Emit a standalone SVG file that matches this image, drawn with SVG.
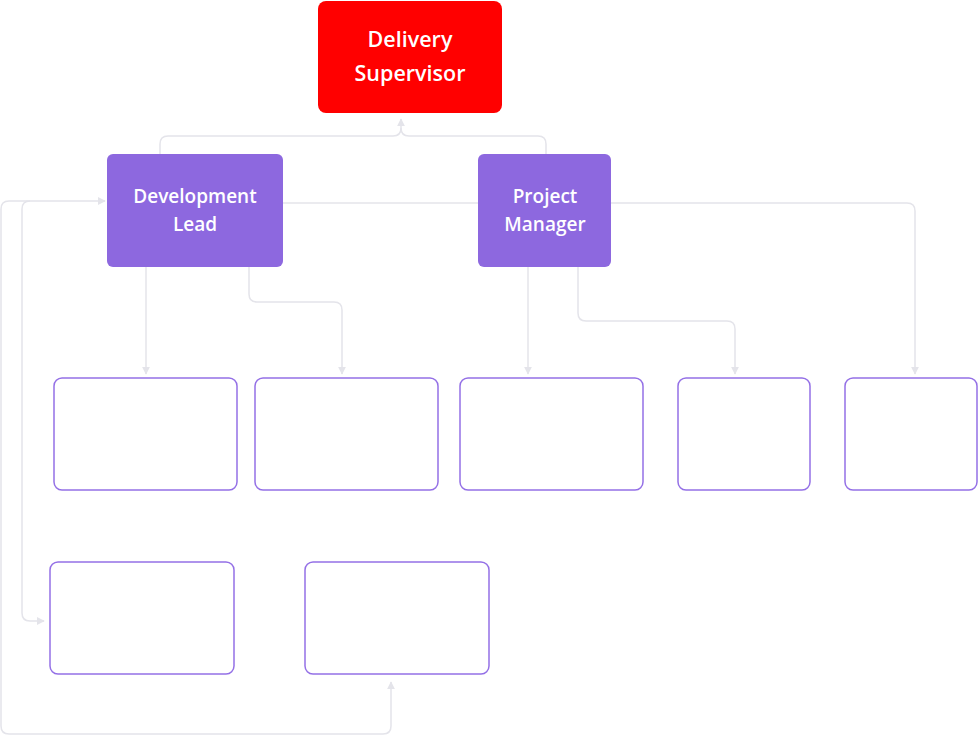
<svg xmlns="http://www.w3.org/2000/svg" width="979" height="735" viewBox="0 0 979 735">
<style>
.conn{fill:none;stroke:#E4E4EA;stroke-width:1.5}
.box{fill:#FFFFFF;stroke:#9470E6;stroke-width:1.5}
.lbl{font-family:"Open Sans","Liberation Sans",sans-serif;font-weight:600;fill:#FFFFFF;text-anchor:middle}
</style>
<defs>
<marker id="ah" viewBox="0 0 10 10" refX="9" refY="5" markerWidth="8" markerHeight="8" markerUnits="userSpaceOnUse" orient="auto-start-reverse">
<path d="M0,0 L10,5 L0,10 Z" fill="#E4E4EA"/>
</marker>
</defs>
<g id="connectors">
<path class="conn" d="M160,154 V144 Q160,136 168,136 H393 Q401,136 401,128 V119" marker-end="url(#ah)"/>
<path class="conn" d="M546,154 V144 Q546,136 538,136 H409 Q401,136 401,128"/>
<path class="conn" d="M283,203 H478"/>
<path class="conn" d="M146,267 V374" marker-end="url(#ah)"/>
<path class="conn" d="M249,267 V294 Q249,302 257,302 H334 Q342,302 342,310 V374" marker-end="url(#ah)"/>
<path class="conn" d="M528,267 V374" marker-end="url(#ah)"/>
<path class="conn" d="M578,267 V313 Q578,321 586,321 H727 Q735,321 735,329 V374" marker-end="url(#ah)"/>
<path class="conn" d="M611,203 H907 Q915,203 915,211 V374" marker-end="url(#ah)"/>
<path class="conn" d="M391,682 V726 Q391,734 383,734 H9 Q1,734 1,726 V209 Q1,201 9,201 H105" marker-start="url(#ah)" marker-end="url(#ah)"/>
<path class="conn" d="M30,201 Q22,201 22,209 V613 Q22,621 30,621 H44" marker-end="url(#ah)"/>
</g>
<g id="delivery-supervisor">
<rect x="318" y="1" width="184" height="112" rx="8" fill="#FF0000"/>
<text class="lbl" x="410" y="47" font-size="21.5">Delivery</text>
<text class="lbl" x="410" y="81" font-size="21.5">Supervisor</text>
</g>
<g id="development-lead">
<rect x="107" y="154" width="176" height="113" rx="6" fill="#8D68DF"/>
<text class="lbl" x="195" y="203" font-size="19">Development</text>
<text class="lbl" x="195" y="231" font-size="19">Lead</text>
</g>
<g id="project-manager">
<rect x="478" y="154" width="133" height="113" rx="6" fill="#8D68DF"/>
<text class="lbl" x="545" y="203" font-size="19">Project</text>
<text class="lbl" x="545" y="231" font-size="19">Manager</text>
</g>
<g id="box-1"><rect class="box" x="54" y="378" width="183" height="112" rx="8"/></g>
<g id="box-2"><rect class="box" x="255" y="378" width="183" height="112" rx="8"/></g>
<g id="box-3"><rect class="box" x="460" y="378" width="183" height="112" rx="8"/></g>
<g id="box-4"><rect class="box" x="678" y="378" width="132" height="112" rx="8"/></g>
<g id="box-5"><rect class="box" x="845" y="378" width="132" height="112" rx="8"/></g>
<g id="box-6"><rect class="box" x="50" y="562" width="184" height="112" rx="8"/></g>
<g id="box-7"><rect class="box" x="305" y="562" width="184" height="112" rx="8"/></g>
</svg>
